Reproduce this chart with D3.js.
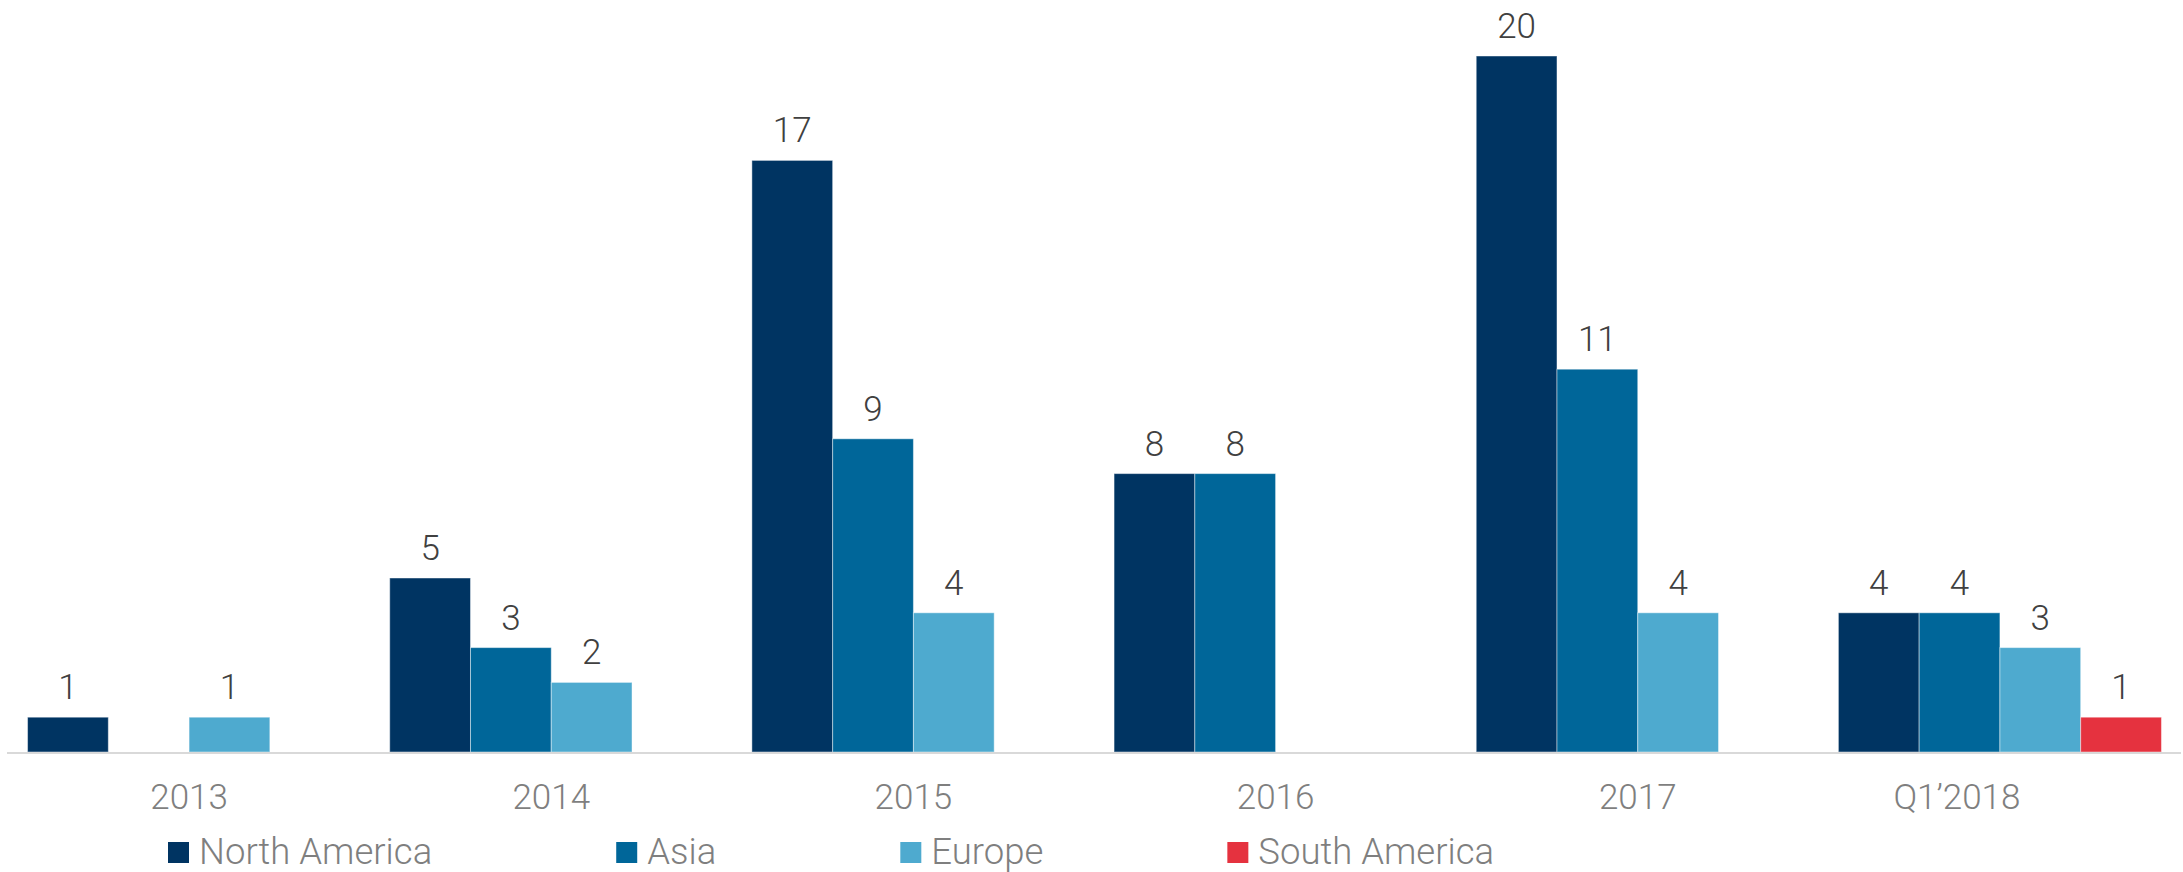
<!DOCTYPE html>
<html>
<head>
<meta charset="utf-8">
<script src="https://d3js.org/d3.v7.min.js"></script>
<style>
  body { margin: 0; background: #fff; }
  text { font-family: Roboto, "Noto Sans", sans-serif; font-weight: 300; }
</style>
</head>
<body>
<svg id="chart" width="2183" height="872"></svg>
<script>
// data
const categories = ["2013", "2014", "2015", "2016", "2017", "Q1\u20192018"];
const seriesNames = ["North America", "Asia", "Europe", "South America"];
const northAmerica = [1, 5, 17, 8, 20, 4];
const asia = [null, 3, 9, 8, 11, 4];
const europe = [1, 2, 4, null, 4, 3];
const southAmerica = [null, null, null, null, null, 1];
const colors = ["#003462", "#006699", "#4eaacf", "#e5323f"];

const svg = d3.select("svg#chart");
const baseline = 752;

const x = d3.scaleBand()
    .domain(categories)
    .range([8, 2181])
    .paddingInner(0.108)
    .paddingOuter(0.054);

const xs = d3.scaleBand()
    .domain(seriesNames)
    .range([0, x.bandwidth()]);

const y = d3.scaleLinear()
    .domain([0, 20])
    .range([baseline, 56]);

const allSeries = [northAmerica, asia, europe, southAmerica];
const rows = [];
allSeries.forEach((vals, si) => {
    vals.forEach((v, ci) => {
        if (v !== null) rows.push({cat: categories[ci], series: seriesNames[si], color: colors[si], value: v});
    });
});

const bars = svg.append("g");
bars.selectAll("rect").data(rows)
    .join("rect")
    .attr("x", d => x(d.cat) + xs(d.series))
    .attr("y", d => y(d.value))
    .attr("width", xs.bandwidth())
    .attr("height", d => baseline - y(d.value))
    .attr("fill", d => d.color)
    .attr("stroke", "#ffffff")
    .attr("stroke-opacity", 0.45)
    .attr("stroke-width", 1);

bars.selectAll("text").data(rows)
    .join("text")
    .attr("x", d => x(d.cat) + xs(d.series) + xs.bandwidth() / 2)
    .attr("y", d => y(d.value) - 18)
    .attr("text-anchor", "middle")
    .attr("font-size", 35)
    .attr("fill", "#404040")
    .text(d => d.value);

// baseline
svg.append("line")
    .attr("x1", 7).attr("x2", 2181)
    .attr("y1", baseline + 1).attr("y2", baseline + 1)
    .attr("stroke", "#d9d9d9")
    .attr("stroke-width", 2);

// category labels
svg.append("g").selectAll("text").data(categories)
    .join("text")
    .attr("x", d => x(d) + x.bandwidth() / 2 + (d.startsWith("Q1") ? -43 : 0))
    .attr("y", 809)
    .attr("text-anchor", "middle")
    .attr("font-size", 35)
    .attr("fill", "#7f7f7f")
    .text(d => d);

// legend
const legend = svg.append("g");
let lx = 168;
seriesNames.forEach((name, i) => {
    legend.append("rect")
        .attr("x", lx).attr("y", 842)
        .attr("width", 21).attr("height", 21)
        .attr("fill", colors[i]);
    const t = legend.append("text")
        .attr("x", lx + 31).attr("y", 864)
        .attr("font-size", 36.5)
        .attr("fill", "#7f7f7f")
        .text(name);
    lx = lx + 31 + t.node().getComputedTextLength() + 184;
});
</script>
</body>
</html>
